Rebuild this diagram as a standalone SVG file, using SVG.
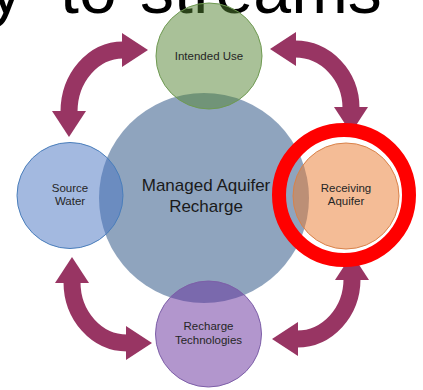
<svg xmlns="http://www.w3.org/2000/svg" width="423" height="390" viewBox="0 0 423 390">
  <style>
    .lbl { font-family: "Liberation Sans", Arial, sans-serif; font-size: 11.5px; fill: #262626; text-anchor: middle; }
    .big { font-family: "Liberation Sans", Arial, sans-serif; font-size: 17px; fill: #1a1a1a; text-anchor: middle; }
    .title { font-family: "Liberation Sans", Arial, sans-serif; font-size: 68px; fill: #000; }
    .conn { fill: none; stroke: #983563; stroke-width: 17; marker-start: url(#head); marker-end: url(#head); }
  </style>
  <defs>
    <marker id="head" markerUnits="userSpaceOnUse" markerWidth="27" markerHeight="36" viewBox="0 0 27 36" refX="1" refY="18" orient="auto-start-reverse">
      <path d="M0,1 L26,18 L0,35 Z" fill="#983563"/>
    </marker>
  </defs>
  <rect width="423" height="390" fill="#ffffff"/>
  <text class="title" y="13"><tspan x="-11">y </tspan><tspan x="60">to </tspan><tspan x="140">streams</tspan></text>

  <g id="node-managed-aquifer-recharge">
    <circle cx="204" cy="198" r="105" fill="#1F497D" fill-opacity="0.5"/>
  </g>
  <g id="node-intended-use">
    <circle cx="209" cy="56" r="53" fill="#538331" fill-opacity="0.5" stroke="#6f9a52" stroke-width="1"/>
    <text class="lbl" x="209" y="60">Intended Use</text>
  </g>
  <g id="node-source-water">
    <circle cx="70" cy="195.5" r="53" fill="#4773C1" fill-opacity="0.5" stroke="#4a7ebb" stroke-width="1"/>
    <text class="lbl" x="70" y="192">Source</text>
    <text class="lbl" x="70" y="205">Water</text>
  </g>
  <g id="node-receiving-aquifer">
    <circle cx="346" cy="196" r="53" fill="#E9792D" fill-opacity="0.5" stroke="#d9824a" stroke-width="1"/>
    <text class="lbl" x="346" y="192">Receiving</text>
    <text class="lbl" x="346" y="205">Aquifer</text>
  </g>
  <g id="node-recharge-technologies">
    <circle cx="208.5" cy="334" r="53" fill="#652D9B" fill-opacity="0.5" stroke="#7d5fa8" stroke-width="1"/>
    <text class="lbl" x="208.5" y="330">Recharge</text>
    <text class="lbl" x="208.5" y="344">Technologies</text>
  </g>
  <g id="node-managed-aquifer-recharge-label">
    <text class="big" x="206" y="191">Managed Aquifer</text>
    <text class="big" x="206" y="212">Recharge</text>
  </g>

  <g id="connectors">
    <path class="conn" d="M 69 112 A 54 62 0 0 1 123 50"/>
    <path class="conn" d="M 295 49 A 56 59 0 0 1 351 108"/>
    <path class="conn" d="M 352 279 A 55 60 0 0 1 297 339"/>
    <path class="conn" d="M 127 343 A 55 61 0 0 1 72 282"/>
  </g>

  <g id="highlight">
    <circle cx="344" cy="195" r="65" fill="none" stroke="#ff0000" stroke-width="14"/>
  </g>
</svg>
